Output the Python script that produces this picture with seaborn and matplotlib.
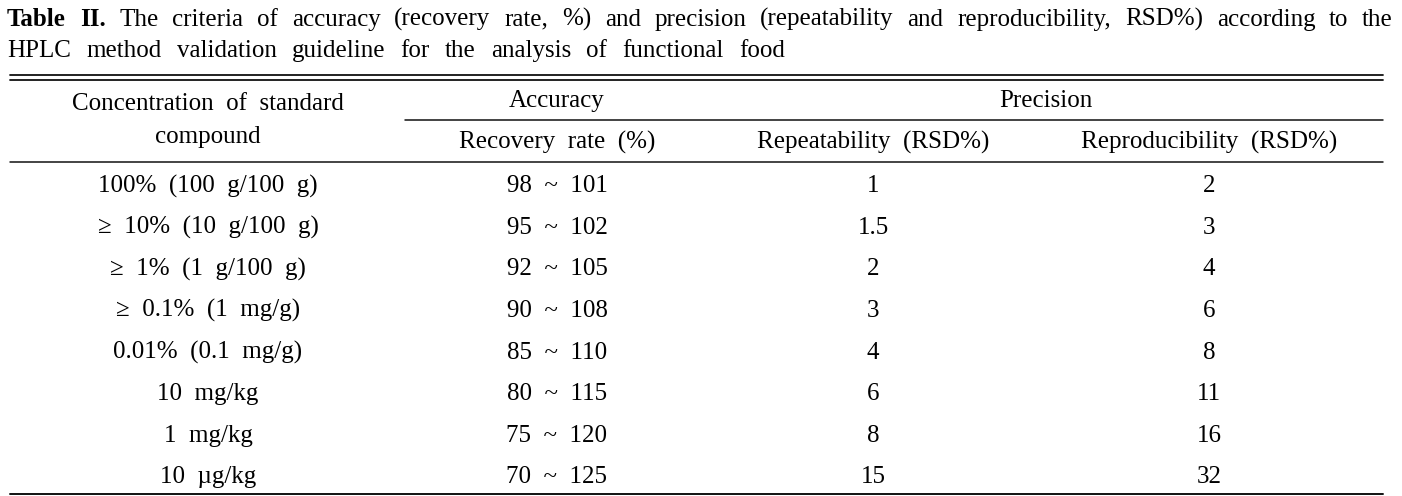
import seaborn as sns
import matplotlib.pyplot as plt
import pandas as pd

sns.set_theme(style="white")
plt.rcParams['font.family'] = ['Liberation Serif', 'DejaVu Serif']
plt.rcParams['text.color'] = 'black'

# table content
concentration = ["100%  (100  g/100  g)", "\u2265  10%  (10  g/100  g)", "\u2265  1%  (1  g/100  g)",
                 "\u2265  0.1%  (1  mg/g)", "0.01%  (0.1  mg/g)", "10  mg/kg", "1  mg/kg", "10  \u00b5g/kg"]
recovery = ["98  ~  101", "95  ~  102", "92  ~  105", "90  ~  108",
            "85  ~  110", "80  ~  115", "75  ~  120", "70  ~  125"]
repeatability = ["1", "1.5", "2", "3", "4", "6", "8", "15"]
reproducibility = ["2", "3", "4", "6", "8", "11", "16", "32"]

df = pd.DataFrame({"conc": concentration, "rec": recovery,
                   "rep": repeatability, "repro": reproducibility})

title1 = "The criteria of accuracy (recovery rate, %) and precision (repeatability and reproducibility, RSD%) according to the"
title2 = "HPLC method validation guideline for the analysis of functional food"

fs = 18
W, H = 1402, 496
fig = plt.figure(figsize=(W / 100, H / 100), dpi=100)
ax = fig.add_axes([0, 0, 1, 1])
ax.set_xlim(0, W)
ax.set_ylim(H, 0)
ax.axis('off')
r = fig.canvas.get_renderer()


def justify(words, x0, x1, y, bold_n=0):
    texts = []
    for i, w in enumerate(words):
        t = ax.text(0, y, w, fontsize=fs, va='baseline', ha='left',
                    fontweight='bold' if i < bold_n else 'normal')
        texts.append(t)
    widths = [t.get_window_extent(r).width for t in texts]
    gap = (x1 - x0 - sum(widths)) / (len(words) - 1)
    x = x0
    for t, wd in zip(texts, widths):
        t.set_x(x)
        x += wd + gap


justify(["Table", "II."] + title1.split(), 7, 1393, 26, bold_n=2)
justify(title2.split(), 7, 785, 57)

# rules
lc = '#111111'
ax.plot([10, 1383], [75, 75], color=lc, lw=1.3)
ax.plot([10, 1383], [79.5, 79.5], color=lc, lw=1.3)
ax.plot([405, 1383], [119.5, 119.5], color=lc, lw=1.1)
ax.plot([10, 1383], [161.5, 161.5], color=lc, lw=1.1)
ax.plot([10, 1383], [494, 494], color=lc, lw=1.4)

cx = [208, 557, 873, 1209]

# header
ax.text(cx[0], 110, "Concentration  of  standard", fontsize=fs, ha='center', va='baseline')
ax.text(cx[0], 143, "compound", fontsize=fs, ha='center', va='baseline')
ax.text(cx[1], 107, "Accuracy", fontsize=fs, ha='center', va='baseline')
ax.text(1046, 107, "Precision", fontsize=fs, ha='center', va='baseline')
ax.text(cx[1], 149, "Recovery  rate  (%)", fontsize=fs, ha='center', va='baseline')
ax.text(cx[2], 149, "Repeatability  (RSD%)", fontsize=fs, ha='center', va='baseline')
ax.text(cx[3], 149, "Reproducibility  (RSD%)", fontsize=fs, ha='center', va='baseline')

# body
row_h = (494 - 161.5) / len(df)
for i, row in df.iterrows():
    yb = 161.5 + row_h * (i + 0.5) + 10
    for x, col in zip(cx, ["conc", "rec", "rep", "repro"]):
        ax.text(x, yb, row[col], fontsize=fs, ha='center', va='baseline')

fig.savefig("out.png", dpi=100, facecolor='white')
